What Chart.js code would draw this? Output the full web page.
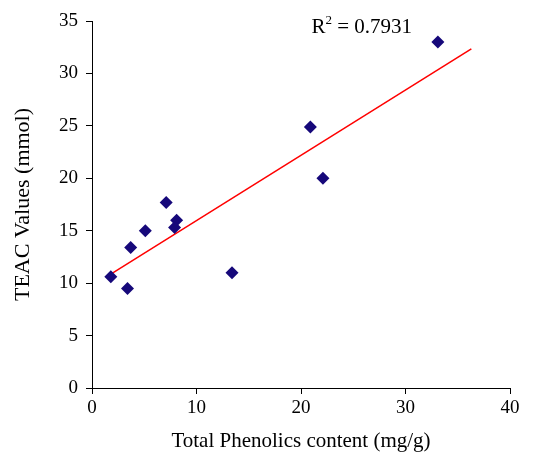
<!DOCTYPE html>
<html>
<head>
<meta charset="utf-8">
<script src="https://cdn.jsdelivr.net/npm/chart.js@4/dist/chart.umd.min.js"></script>
<style>
  html, body { margin: 0; padding: 0; background: #fff; }
  #wrap { width: 533px; height: 454px; }
</style>
</head>
<body>
<div id="wrap"><canvas id="chart" width="533" height="454"></canvas></div>
<script>
// values
const phenolics = [1.8, 3.4, 3.7, 5.1, 7.1, 8.1, 7.9, 13.4, 20.9, 22.1, 33.1];
const teac = [10.6, 9.5, 13.4, 15.0, 17.7, 16.0, 15.3, 11.0, 24.9, 20.0, 33.0];
const trendX = [1.8, 36.3];
const trendY = [10.85, 32.35];
const xTicks = [0, 10, 20, 30, 40];
const yTicks = [0, 5, 10, 15, 20, 25, 30, 35];
const rSquared = '0.7931';

const serif = "'Liberation Serif', 'DejaVu Serif', serif";

// R² label, placed in data coordinates
const r2Label = {
  id: 'r2Label',
  afterDatasetsDraw(chart) {
    const { ctx, scales } = chart;
    const x = scales.x.getPixelForValue(21.0);
    const y = scales.y.getPixelForValue(33.9);
    ctx.save();
    ctx.fillStyle = '#000';
    ctx.textBaseline = 'alphabetic';
    ctx.font = '21px ' + serif;
    ctx.fillText('R', x, y);
    let w = ctx.measureText('R').width;
    ctx.font = '13px ' + serif;
    ctx.fillText('2', x + w, y - 9);
    w += ctx.measureText('2').width;
    ctx.font = '21px ' + serif;
    ctx.fillText(' = ' + rSquared, x + w, y);
    ctx.restore();
  }
};

const ctx = document.getElementById('chart').getContext('2d');
new Chart(ctx, {
  type: 'scatter',
  data: {
    datasets: [
      {
        label: 'TEAC',
        data: phenolics.map((v, i) => ({ x: v, y: teac[i] })),
        pointStyle: 'rectRot',
        pointRadius: 6.5,
        pointHoverRadius: 6.5,
        backgroundColor: '#16087a',
        borderColor: '#16087a',
        borderWidth: 0,
        order: 1
      },
      {
        label: 'Linear',
        type: 'line',
        data: trendX.map((v, i) => ({ x: v, y: trendY[i] })),
        borderColor: '#ff0000',
        borderWidth: 1.5,
        pointRadius: 0,
        fill: false,
        order: 2
      }
    ]
  },
  options: {
    responsive: false,
    animation: false,
    events: [],
    layout: { padding: { left: 0, right: 23, top: 21, bottom: 0 } },
    plugins: {
      legend: { display: false },
      tooltip: { enabled: false }
    },
    scales: {
      x: {
        type: 'linear',
        min: 0,
        max: 40,
        afterBuildTicks: (s) => { s.ticks = xTicks.map(v => ({ value: v })); },
        afterFit: (s) => { s.height = 66; },
        border: { display: true, color: '#000', width: 1 },
        grid: { drawOnChartArea: false, drawTicks: true, tickLength: 6, color: '#000' },
        ticks: { color: '#000', padding: 3, font: { family: serif, size: 19 } },
        title: {
          display: true,
          text: 'Total Phenolics content (mg/g)',
          color: '#000',
          padding: { top: 0, bottom: 0 },
          font: { family: serif, size: 21 }
        }
      },
      y: {
        type: 'linear',
        min: 0,
        max: 35,
        afterBuildTicks: (s) => { s.ticks = yTicks.map(v => ({ value: v })); },
        afterFit: (s) => { s.width = 92; },
        border: { display: true, color: '#000', width: 1 },
        grid: { drawOnChartArea: false, drawTicks: true, tickLength: 6, color: '#000' },
        ticks: { color: '#000', padding: 8, font: { family: serif, size: 19 } },
        title: {
          display: true,
          text: 'TEAC Values (mmol)',
          color: '#000',
          padding: { top: 10, bottom: 4 },
          font: { family: serif, size: 22 }
        }
      }
    }
  },
  plugins: [r2Label]
});
</script>
</body>
</html>
